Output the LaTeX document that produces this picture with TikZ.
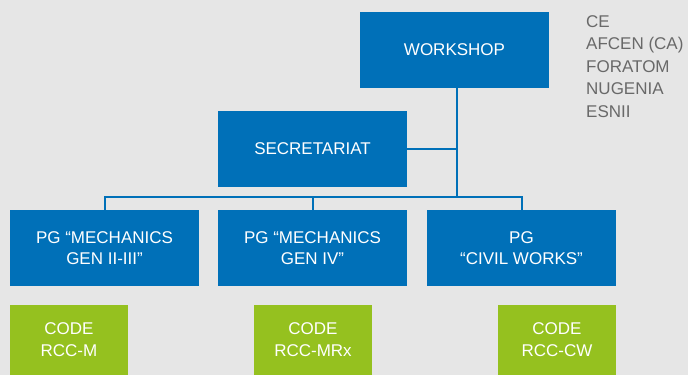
\documentclass[tikz,border=0pt]{standalone}
\usepackage{fontspec}
\setmainfont{Liberation Sans}
\definecolor{bgc}{RGB}{230,230,230}
\definecolor{blu}{RGB}{0,112,184}
\definecolor{grn}{RGB}{149,193,31}
\definecolor{gtx}{RGB}{105,105,105}
\begin{document}
\begin{tikzpicture}[x=1pt,y=-1pt,
  box/.style={fill=blu, text=white, minimum width=189pt, minimum height=76pt, inner sep=0pt, align=center, font=\fontsize{17}{21}\selectfont},
  codebox/.style={fill=grn, text=white, minimum width=118pt, minimum height=70pt, inner sep=0pt, align=center, font=\fontsize{17}{22}\selectfont},
  members/.style={text=gtx, align=left, inner sep=0pt, anchor=north west, font=\fontsize{17}{22.5}\selectfont},
  conn/.style={draw=blu, line width=2pt}]
\fill[bgc] (0,0) rectangle (688,375);
\useasboundingbox (0,0) rectangle (688,375);
\node[box] (ws) at (454.5,50) {WORKSHOP};
\node[box] (sec) at (312.5,149) {SECRETARIAT};
\node[box] (pg1) at (104.5,248) {PG “MECHANICS\\GEN II-III”};
\node[box] (pg2) at (312.5,248) {PG “MECHANICS\\GEN IV”};
\node[box] (pg3) at (521.5,248) {PG\\“CIVIL WORKS”};
\node[codebox] (c1) at (69,340) {CODE\\RCC-M};
\node[codebox] (c2) at (313,340) {CODE\\RCC-MRx};
\node[codebox] (c3) at (557,340) {CODE\\RCC-CW};
\node[members] (mem) at (586,15) {CE\\AFCEN (CA)\\FORATOM\\NUGENIA\\ESNII};
\coordinate (bus) at (457,197);
\draw[conn] (ws.south -| bus) -- (bus);
\draw[conn] (sec.east) -- (sec.east -| bus);
\draw[conn] (pg1.north) |- (bus) -| (pg3.north);
\draw[conn] (pg2.north) -- (pg2.north |- bus);
\end{tikzpicture}
\end{document}
